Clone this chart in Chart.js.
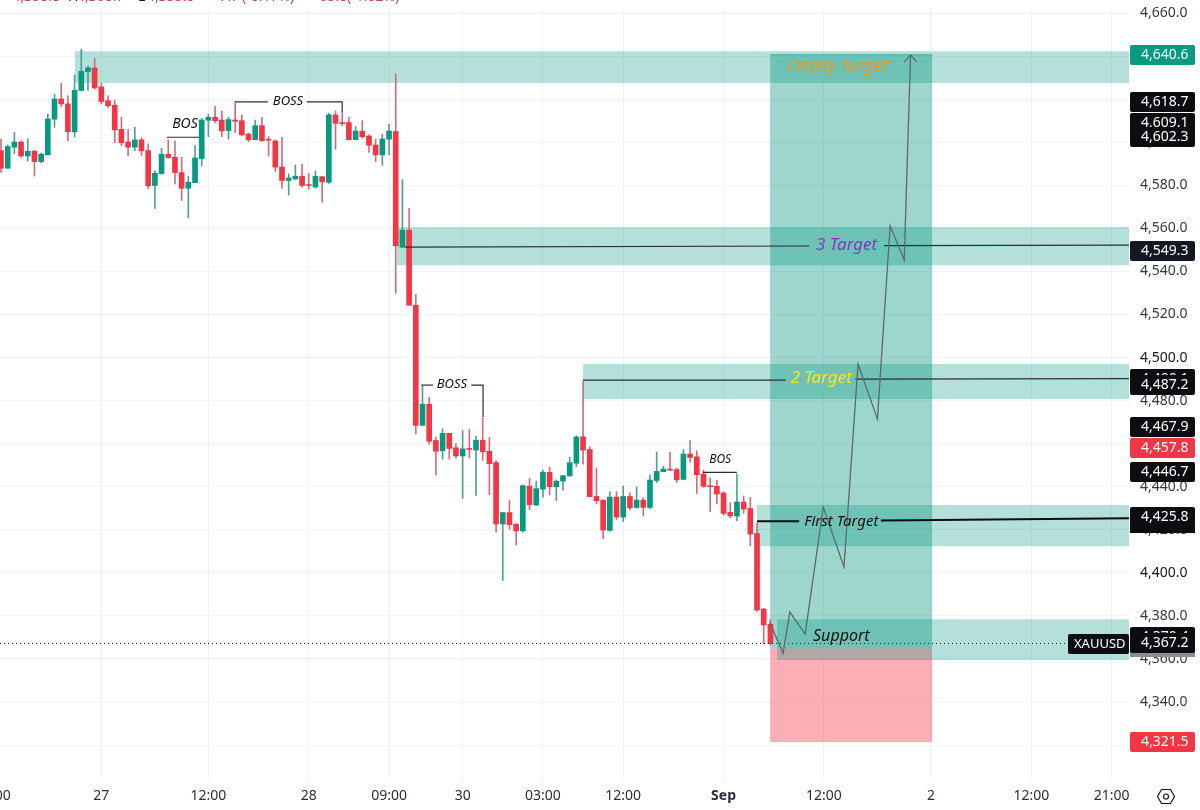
<!DOCTYPE html>
<html>
<head>
<meta charset="utf-8">
<title>XAUUSD</title>
<script src="https://cdn.jsdelivr.net/npm/chart.js@4/dist/chart.umd.min.js"></script>
<style>
  html, body { margin: 0; padding: 0; background: #fff; }
  canvas { display: block; }
</style>
</head>
<body>
<canvas id="chart" width="1200" height="810"></canvas>
<script>
const opens = [4596.1,4587.9,4597.7,4600.1,4593.6,4595.8,4591.0,4594.1,4610.7,4620.1,4617.8,4604.8,4624.0,4632.8,4634.5,4625.7,4619.3,4617.2,4606.0,4600.1,4597.7,4601.1,4596.1,4579.9,4585.3,4594.4,4593.0,4585.9,4578.6,4581.2,4592.4,4610.2,4611.6,4610.3,4605.4,4610.3,4610.0,4603.8,4601.2,4607.7,4601.2,4600.6,4588.5,4582.2,4582.9,4584.2,4580.2,4579.2,4584.0,4581.4,4612.7,4609.1,4609.1,4601.2,4605.1,4602.9,4598.7,4594.1,4601.4,4605.0,4551.2,4559.2,4524.3,4468.5,4478.3,4461.5,4456.7,4464.8,4458.1,4454.3,4457.8,4457.0,4461.6,4456.5,4451.2,4422.7,4428.0,4422.6,4419.5,4440.3,4431.5,4438.9,4446.7,4440.0,4442.6,4445.0,4450.9,4463.2,4457.3,4435.5,4433.8,4419.7,4435.2,4425.9,4435.5,4430.4,4433.8,4430.4,4442.9,4447.0,4448.2,4448.0,4443.4,4455.2,4453.9,4445.9,4440.5,4440.2,4437.1,4428.1,4426.4,4432.9,4429.9,4418.3,4383.2,4376.1];
const highs = [4601.5,4598.7,4604.6,4600.6,4601.5,4596.4,4594.9,4613.1,4622.3,4627.4,4621.5,4631.2,4643.3,4635.4,4639.0,4627.4,4621.5,4619.6,4611.6,4606.0,4606.9,4602.1,4599.2,4586.7,4597.2,4601.1,4600.6,4593.0,4584.3,4598.4,4611.1,4613.1,4616.8,4614.5,4611.6,4618.1,4612.7,4604.2,4610.3,4611.6,4602.6,4601.1,4602.3,4585.3,4589.4,4589.9,4585.6,4586.7,4584.3,4613.4,4614.5,4614.5,4611.6,4607.3,4610.0,4603.4,4601.4,4603.8,4608.3,4631.7,4582.6,4569.3,4529.3,4486.9,4481.6,4462.9,4466.9,4464.8,4460.0,4466.1,4466.6,4463.4,4472.0,4462.9,4452.2,4428.2,4433.6,4422.9,4440.8,4443.9,4442.6,4447.7,4449.0,4443.2,4445.3,4453.8,4463.7,4489.0,4458.6,4448.5,4433.8,4437.7,4437.7,4440.3,4437.2,4440.0,4434.9,4445.4,4456.1,4449.6,4456.1,4448.5,4457.3,4461.4,4456.7,4447.7,4444.2,4443.1,4437.7,4432.6,4445.9,4435.7,4435.0,4423.0,4383.5,4378.4];
const lows = [4586.0,4587.9,4594.6,4592.9,4591.3,4584.3,4590.5,4594.1,4606.9,4616.5,4600.7,4602.5,4624.0,4624.0,4624.7,4617.8,4616.2,4599.8,4598.3,4593.6,4596.0,4593.8,4578.5,4569.2,4585.3,4592.5,4580.6,4572.9,4564.8,4581.2,4589.0,4602.6,4609.1,4602.6,4601.4,4604.5,4602.9,4600.3,4601.1,4600.4,4593.6,4586.4,4578.5,4575.4,4582.8,4579.1,4578.2,4578.6,4572.0,4580.9,4596.7,4607.6,4601.1,4601.1,4601.8,4595.2,4591.0,4589.3,4594.1,4529.8,4551.2,4524.3,4464.5,4468.5,4459.7,4445.5,4452.8,4452.8,4453.3,4434.6,4453.3,4436.0,4452.2,4436.2,4418.9,4396.5,4420.2,4413.0,4418.9,4429.3,4431.2,4435.2,4436.2,4433.6,4438.4,4445.0,4449.3,4450.5,4435.4,4432.0,4415.9,4419.4,4424.8,4423.9,4429.2,4429.9,4426.4,4429.8,4441.9,4447.0,4447.4,4442.0,4443.3,4451.3,4436.9,4439.7,4428.4,4432.0,4426.8,4425.6,4424.2,4427.6,4412.6,4382.1,4367.0,4366.5];
const closes = [4587.9,4598.0,4600.1,4593.6,4595.8,4591.0,4594.4,4610.8,4620.1,4617.8,4604.8,4624.1,4632.9,4634.5,4625.2,4618.9,4616.9,4605.7,4599.8,4597.7,4601.1,4596.0,4579.7,4585.6,4594.4,4592.9,4585.9,4578.6,4581.4,4592.7,4610.3,4611.6,4610.0,4605.2,4610.5,4609.7,4603.4,4601.1,4607.7,4600.7,4600.9,4588.4,4582.2,4583.4,4584.2,4579.9,4579.9,4584.2,4581.6,4612.7,4608.8,4608.6,4601.2,4605.2,4602.5,4598.6,4594.1,4601.5,4605.2,4551.9,4559.2,4524.3,4468.5,4478.3,4461.1,4456.5,4464.8,4457.8,4454.3,4457.6,4457.3,4461.6,4456.2,4450.7,4422.7,4428.0,4422.4,4419.5,4440.5,4431.7,4439.1,4446.7,4440.0,4442.6,4445.1,4451.2,4463.1,4457.0,4435.4,4433.5,4419.9,4435.2,4425.9,4435.5,4430.2,4433.8,4430.4,4443.1,4447.1,4448.2,4447.7,4443.2,4455.2,4453.6,4445.6,4440.2,4440.0,4436.6,4427.6,4426.4,4432.9,4429.6,4418.0,4382.7,4375.8,4367.2];

const priceTicks = [4660,4640,4620,4600,4580,4560,4540,4520,4500,4480,4460,4440,4420,4400,4380,4360,4340,4320];
const timeTickBars = [-1.2,15,31,46,58,69,81,93,108,123,139,154,166];
const timeTickLabels = ['21:00','27','12:00','28','09:00','30','03:00','12:00','Sep','12:00','2','12:00','21:00'];

// shaded zones, in bars and prices
const zoneStarts = [11.06,59.2,87,113,116];
const zoneTops = [4642.3,4560.6,4497,4431.5,4378.5];
const zoneBottoms = [4627.5,4542.9,4480.7,4412.4,4359.5];

// long position box
const boxBars = [114.95,139.2];
const boxTarget = 4640.6;
const boxEntry = 4365;
const boxStop = 4321.5;

// projected path
const pathBars = [114.9,116.9,117.9,120.2,122.9,126,128.1,131,132.9,135,135.95];
const pathPrices = [4377,4362.7,4381.8,4371.6,4430.6,4402.7,4497,4471.4,4561.1,4545.3,4640.5];
const arrowBars = [135,135.95,136.9];
const arrowPrices = [4637.2,4640.5,4637.2];

// target and structure lines
const thinLines = [
  [[60.4,120.8],[4551.3,4551.8]],
  [[132,168.6],[4552,4552.2]],
  [[87,117.3],[4489.5,4489.5]],
  [[127.7,168.6],[4490,4490.2]],
  [[24.8,29.6],[4602.3,4602.3]],
  [[34.9,39.9],[4618.7,4618.7]],
  [[45.7,51,51],[4618.7,4618.7,4614.2]],
  [[62.8,64.6],[4487.2,4487.2]],
  [[70.3,72.05,72.05],[4487.2,4487.2,4472.4]],
  [[104.9,110],[4446.7,4446.7]]
];
const thickLines = [
  [[113,119.3],[4424,4424]],
  [[131.5,168.6],[4424.3,4425.4]]
];

const lastPrice = 4367.2;
const lastLineEnd = 159.5;

const priceBadges = [4640.6,4618.7,4609.1,4602.3,4549.3,4490.1,4487.2,4467.9,4457.8,4446.7,4425.8,4370.4,4367.2,4321.5];
const badgeColors = ['#089981','#0c0d10','#0c0d10','#0c0d10','#131722','#0c0d10','#0c0d10','#0c0d10','#f23645','#0c0d10','#0c0d10','#0c0d10','#0c0d10','#f23645'];

const noteTexts = ['Finally Target','3 Target','2 Target','First Target','Support','BOS','BOSS','BOSS','BOS'];
const noteBars = [125,126.4,122.6,125.6,125.6,27.5,42.9,67.4,107.5];
const notePrices = [4635.2,4552,4490.5,4423.6,4370.4,4608.4,4619,4487.5,4452.5];
const noteColors = ['#e89b22','#8a35b8','#f7e32e','#111','#111','#111','#111','#111','#111'];
const noteFonts = [17,17,17,15,16,14,13,13,12];

const headerTexts = ['4,358.8','H','4,368.7','L','4,355.0','-7.7','(-0.17%)','-65.8','(-1.62%)'];
const headerX = [10,68,77,138,147,215,242,315,347];

const xMin = -0.15;
const xMax = 168.6;

function priceText(v) {
  return v.toLocaleString('en-US', { minimumFractionDigits: 1, maximumFractionDigits: 1 });
}

function twoPoints(bars, prices) {
  return bars.map((b, i) => ({ x: b, y: prices[i] }));
}

function lineSet(bars, prices, color, width, order, dash) {
  return {
    type: 'line',
    data: twoPoints(bars, prices),
    borderColor: color,
    borderWidth: width,
    borderDash: dash || [],
    pointRadius: 0,
    tension: 0,
    fill: false,
    order: order
  };
}

function zoneSet(start, end, top, bottom, color, order, edge) {
  return {
    type: 'line',
    data: [{ x: start, y: top }, { x: end, y: top }],
    borderColor: edge || 'transparent',
    borderWidth: edge ? 1 : 0,
    backgroundColor: color,
    pointRadius: 0,
    tension: 0,
    fill: { value: bottom },
    order: order
  };
}

const barIndex = opens.map((o, i) => i);
const candleUp = opens.map((o, i) => closes[i] >= o);

const datasets = [];

// the horizontal zones lie over the position box
datasets.push(zoneSet(boxBars[0], boxBars[1], boxTarget, boxEntry, 'rgba(8,153,129,0.4)', 50, 'rgba(8,153,129,0.55)'));
datasets.push(zoneSet(boxBars[0], boxBars[1], boxEntry, boxStop, 'rgba(247,53,75,0.4)', 50));
zoneStarts.forEach((start, i) => {
  datasets.push(zoneSet(start, xMax, zoneTops[i], zoneBottoms[i], 'rgba(8,153,129,0.3)', 40));
});

datasets.push({
  type: 'bar',
  data: barIndex.map(i => ({ x: i, y: [lows[i], highs[i]] })),
  backgroundColor: candleUp.map(up => up ? '#4fa193' : '#cf6d80'),
  barThickness: 1,
  grouped: false,
  order: 30
});
datasets.push({
  type: 'bar',
  data: barIndex.map(i => ({ x: i, y: [opens[i], closes[i]] })),
  backgroundColor: candleUp.map(up => up ? '#089981' : '#f23645'),
  barThickness: 5,
  minBarLength: 1,
  grouped: false,
  order: 29
});

datasets.push(lineSet([xMin, lastLineEnd], [lastPrice, lastPrice], '#131722', 1, 20, [1, 3]));
thinLines.forEach(l => datasets.push(lineSet(l[0], l[1], '#2a2e39', 1.2, 15)));
thickLines.forEach(l => datasets.push(lineSet(l[0], l[1], '#0c0d10', 2, 15)));
datasets.push(lineSet(pathBars, pathPrices, '#5b6a6a', 1.3, 10));
datasets.push(lineSet(arrowBars, arrowPrices, '#5b6a6a', 1.3, 10));

function roundBox(ctx, x, y, w, h, r) {
  ctx.beginPath();
  ctx.roundRect(x, y, w, h, r);
  ctx.fill();
}

const drawingsPlugin = {
  id: 'drawings',
  afterDraw(chart) {
    const ctx = chart.ctx;
    const sx = chart.scales.x;
    const sy = chart.scales.y;

    ctx.save();

    // notes on the chart
    ctx.textAlign = 'center';
    ctx.textBaseline = 'middle';
    noteTexts.forEach((t, i) => {
      ctx.font = 'italic ' + noteFonts[i] + 'px "Noto Sans"';
      ctx.fillStyle = noteColors[i];
      ctx.fillText(t, sx.getPixelForValue(noteBars[i]), sy.getPixelForValue(notePrices[i]));
    });

    // strips that stick out under two of the badges
    ctx.fillStyle = '#0c0d10';
    ctx.fillRect(1130, 526, 65, 7);
    ctx.fillStyle = '#8a8c96';
    ctx.fillRect(1130, 650, 65, 7);

    // price badges on the axis
    ctx.font = '14px "Noto Sans"';
    ctx.textAlign = 'left';
    priceBadges.forEach((p, i) => {
      const y = sy.getPixelForValue(p);
      ctx.fillStyle = badgeColors[i];
      roundBox(ctx, 1130, Math.round(y) - 10, 65, 20, 2);
      ctx.fillStyle = '#fff';
      ctx.fillText(priceText(p), 1141, y);
    });
    ctx.fillStyle = '#0c0d10';
    ctx.fillRect(1130, 526, 65, 7);

    // symbol tag
    ctx.fillStyle = '#0c0d10';
    roundBox(ctx, 1068, 634, 61, 20, 2);
    ctx.fillStyle = '#fff';
    ctx.font = '13px "Noto Sans"';
    ctx.fillText('XAUUSD', 1074, 644);

    // clipped legend line at the very top
    ctx.font = '14px "Noto Sans"';
    ctx.textBaseline = 'alphabetic';
    headerTexts.forEach((t, i) => {
      ctx.fillStyle = (t === 'H' || t === 'L') ? '#131722' : '#b8475f';
      ctx.textAlign = i === 0 ? 'right' : 'left';
      ctx.fillText(t, i === 0 ? 60 : headerX[i], 1);
    });

    // settings icon
    const cx = 1166;
    const cy = 796.5;
    ctx.strokeStyle = '#131722';
    ctx.lineWidth = 1.2;
    ctx.beginPath();
    [[-8.5,0],[-4.5,-7],[4.5,-7],[8.5,0],[4.5,7],[-4.5,7]].forEach((p, i) => {
      if (i === 0) ctx.moveTo(cx + p[0], cy + p[1]);
      else ctx.lineTo(cx + p[0], cy + p[1]);
    });
    ctx.closePath();
    ctx.stroke();
    ctx.beginPath();
    ctx.arc(cx, cy, 2.5, 0, Math.PI * 2);
    ctx.stroke();

    ctx.restore();
  }
};

new Chart(document.getElementById('chart').getContext('2d'), {
  type: 'bar',
  data: { datasets: datasets },
  plugins: [drawingsPlugin],
  options: {
    responsive: false,
    animation: false,
    layout: { padding: { top: 10, left: 0, right: 0, bottom: 0 } },
    plugins: { legend: { display: false }, tooltip: { enabled: false } },
    scales: {
      x: {
        type: 'linear',
        offset: false,
        min: xMin,
        max: xMax,
        border: { display: false },
        grid: { color: '#eff2f7', drawTicks: false, offset: false },
        afterBuildTicks(scale) {
          scale.ticks = timeTickBars.map(v => ({ value: v }));
        },
        afterFit(scale) {
          scale.height = 30;
          scale.paddingLeft = 0;
          scale.paddingRight = 0;
        },
        ticks: {
          autoSkip: false,
          maxRotation: 0,
          padding: 8,
          color: '#2a2e39',
          font: (c) => ({
            family: '"Noto Sans"',
            size: 14,
            weight: timeTickLabels[c.index] === 'Sep' ? '700' : '400'
          }),
          callback: (v, i) => timeTickLabels[i]
        }
      },
      y: {
        type: 'linear',
        position: 'right',
        min: 4303.8,
        max: 4661.4,
        border: { display: false },
        grid: { color: '#f0f3f8', drawTicks: false },
        afterBuildTicks(scale) {
          scale.ticks = priceTicks.map(v => ({ value: v }));
        },
        afterFit(scale) {
          scale.width = 71;
          scale.paddingTop = 0;
          scale.paddingBottom = 0;
        },
        ticks: {
          padding: 11,
          color: (c) => (c.tick.value === 4500 || c.tick.value === 4400) ? '#131722' : '#333842',
          font: { family: '"Noto Sans"', size: 14 },
          callback: (v) => priceText(v)
        }
      }
    }
  }
});
</script>
</body>
</html>
